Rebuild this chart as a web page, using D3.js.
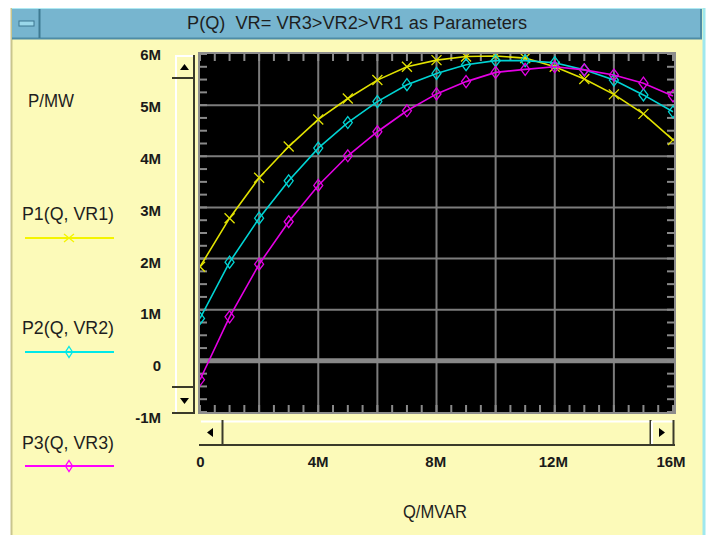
<!DOCTYPE html>
<html>
<head>
<meta charset="utf-8" />
<title>P(Q)</title>
<script src="https://cdnjs.cloudflare.com/ajax/libs/d3/7.8.5/d3.min.js"></script>
<style>
    body { margin: 0; background: #fff; }
    svg text { font-family: "Liberation Sans", Arial, sans-serif; fill: #1e1e1e; }
    .tick text { font-weight: bold; font-size: 15px; fill: #1a1a1a; }
</style>
</head>
<body>
<script>
    // Q in MVAR (millions), P in MW (millions)
    var qValues = [0, 1, 2, 3, 4, 5, 6, 7, 8, 9, 10, 11, 12, 13, 14, 15, 16];
    var p1Values = [1.84, 2.79, 3.58, 4.19, 4.72, 5.13, 5.49, 5.75, 5.88, 5.95, 5.96, 5.92, 5.75, 5.51, 5.21, 4.83, 4.32];
    var p2Values = [0.83, 1.93, 2.79, 3.52, 4.16, 4.66, 5.07, 5.40, 5.62, 5.79, 5.87, 5.87, 5.83, 5.69, 5.49, 5.20, 4.87];
    var p3Values = [-0.37, 0.86, 1.89, 2.72, 3.43, 4.01, 4.48, 4.89, 5.22, 5.46, 5.64, 5.70, 5.75, 5.69, 5.59, 5.43, 5.18];
    var seriesNames = ['P1(Q, VR1)', 'P2(Q, VR2)', 'P3(Q, VR3)'];
    var lineColors = ['#e2e200', '#00d4d4', '#e400e4'];
    var legendColors = ['#f4f400', '#00e8e8', '#ff00ff'];
    var markerTypes = ['x', 'diamond', 'diamond'];
    var xTickValues = [0, 4, 8, 12, 16];
    var xTickLabels = ['0', '4M', '8M', '12M', '16M'];
    var yTickValues = [-1, 0, 1, 2, 3, 4, 5, 6];
    var yTickLabels = ['-1M', '0', '1M', '2M', '3M', '4M', '5M', '6M'];

    var svg = d3.select('body').append('svg').attr('width', 713).attr('height', 535);

    // window frame
    svg.append('rect').attr('x', 11).attr('y', 8).attr('width', 692).attr('height', 527).attr('fill', '#fcfab9');
    svg.append('line').attr('x1', 11.5).attr('x2', 11.5).attr('y1', 8).attr('y2', 535).attr('stroke', '#c9c58e').attr('stroke-width', 2);
    svg.append('line').attr('x1', 704).attr('x2', 704).attr('y1', 8).attr('y2', 535).attr('stroke', '#9fe8ee').attr('stroke-width', 3);
    svg.append('rect').attr('x', 12).attr('y', 8).attr('width', 690).attr('height', 31).attr('fill', '#77b5cf');
    svg.append('line').attr('x1', 12).attr('x2', 702).attr('y1', 8.5).attr('y2', 8.5).attr('stroke', '#aee9f2');
    svg.append('line').attr('x1', 12).attr('x2', 702).attr('y1', 38.5).attr('y2', 38.5).attr('stroke', '#4e8ca6').attr('stroke-width', 2);
    svg.append('line').attr('x1', 701).attr('x2', 701).attr('y1', 9).attr('y2', 39).attr('stroke', '#4e8ca6').attr('stroke-width', 2);
    svg.append('line').attr('x1', 39.5).attr('x2', 39.5).attr('y1', 9).attr('y2', 38).attr('stroke', '#3f7a92').attr('stroke-width', 2);
    svg.append('rect').attr('x', 19).attr('y', 21).attr('width', 15).attr('height', 5).attr('fill', '#9ad7ea').attr('stroke', '#3c7690');

    svg.append('text').attr('x', 357).attr('y', 29).attr('text-anchor', 'middle')
        .attr('font-size', 18).attr('textLength', 340).attr('lengthAdjust', 'spacingAndGlyphs')
        .style('white-space', 'pre')
        .text('P(Q)  VR= VR3>VR2>VR1 as Parameters');

    // scales
    var x = d3.scaleLinear().domain([0, 16]).range([200, 673]);
    var y = d3.scaleLinear().domain([-1, 6]).range([412, 54]);
    var xLabel = d3.scaleLinear().domain([0, 16]).range([200, 670.5]);
    var yLabel = d3.scaleLinear().domain([-1, 6]).range([417.2, 54.5]);

    var plotLeft = 199, plotRight = 675, plotTop = 53, plotBottom = 413;

    // plot background
    svg.append('rect').attr('x', plotLeft).attr('y', plotTop)
        .attr('width', plotRight - plotLeft).attr('height', plotBottom - plotTop).attr('fill', '#000');

    // grid
    var grid = svg.append('g').attr('stroke', '#7c7c7c').attr('stroke-width', 2);
    grid.selectAll('.vx').data([2, 4, 6, 8, 10, 12, 14]).enter().append('line')
        .attr('x1', function (d) { return x(d); }).attr('x2', function (d) { return x(d); })
        .attr('y1', plotTop).attr('y2', plotBottom);
    grid.selectAll('.hy').data([1, 2, 3, 4, 5]).enter().append('line')
        .attr('y1', function (d) { return y(d); }).attr('y2', function (d) { return y(d); })
        .attr('x1', plotLeft).attr('x2', plotRight);
    svg.append('line').attr('x1', plotLeft).attr('x2', plotRight).attr('y1', y(0)).attr('y2', y(0))
        .attr('stroke', '#888').attr('stroke-width', 5);

    // minor ticks on all four sides
    var ticks = svg.append('g').attr('stroke', '#8a8a8a').attr('stroke-width', 2);
    var xMinor = d3.range(0, 16.01, 0.5);
    var yMinor = d3.range(-1, 6.01, 0.25);
    ticks.selectAll('.tt').data(xMinor).enter().append('line')
        .attr('x1', function (d) { return x(d); }).attr('x2', function (d) { return x(d); })
        .attr('y1', plotTop).attr('y2', plotTop + 8);
    ticks.selectAll('.tb').data(xMinor).enter().append('line')
        .attr('x1', function (d) { return x(d); }).attr('x2', function (d) { return x(d); })
        .attr('y1', plotBottom).attr('y2', plotBottom - 8);
    ticks.selectAll('.tl').data(yMinor).enter().append('line')
        .attr('y1', function (d) { return y(d); }).attr('y2', function (d) { return y(d); })
        .attr('x1', plotLeft).attr('x2', plotLeft + 8);
    ticks.selectAll('.tr').data(yMinor).enter().append('line')
        .attr('y1', function (d) { return y(d); }).attr('y2', function (d) { return y(d); })
        .attr('x1', plotRight).attr('x2', plotRight - 8);

    // series
    svg.append('clipPath').attr('id', 'plotclip').append('rect')
        .attr('x', plotLeft + 1).attr('y', plotTop + 1)
        .attr('width', plotRight - plotLeft - 2).attr('height', plotBottom - plotTop - 2);
    var plot = svg.append('g').attr('clip-path', 'url(#plotclip)');

    var allSeries = [p1Values, p2Values, p3Values].map(function (vals, i) {
        return {
            name: seriesNames[i], color: lineColors[i], marker: markerTypes[i],
            points: qValues.map(function (q, j) { return { q: q, p: vals[j] }; })
        };
    });

    var line = d3.line().x(function (d) { return x(d.q); }).y(function (d) { return y(d.p); });
    var markerPath = {
        x: 'M-5,-5L5,5M-5,5L5,-5',
        diamond: 'M0,-6L4.5,0L0,6L-4.5,0Z'
    };

    allSeries.forEach(function (s) {
        plot.append('path').datum(s.points).attr('d', line)
            .attr('fill', 'none').attr('stroke', s.color).attr('stroke-width', 1.6);
        plot.selectAll(null).data(s.points).enter().append('path')
            .attr('transform', function (d) { return 'translate(' + x(d.q) + ',' + y(d.p) + ')'; })
            .attr('d', markerPath[s.marker])
            .attr('fill', 'none').attr('stroke', s.color).attr('stroke-width', 1.3);
    });

    svg.append('rect').attr('x', plotLeft).attr('y', plotTop)
        .attr('width', plotRight - plotLeft).attr('height', plotBottom - plotTop)
        .attr('fill', 'none').attr('stroke', '#8c8c8c').attr('stroke-width', 2);

    // axes labels
    var xAxis = d3.axisBottom(xLabel).tickValues(xTickValues)
        .tickFormat(function (d, i) { return xTickLabels[i]; }).tickSize(0).tickPadding(11);
    var gx = svg.append('g').attr('transform', 'translate(0,445)').call(xAxis);
    gx.select('.domain').remove();

    var yAxis = d3.axisLeft(yLabel).tickValues(yTickValues)
        .tickFormat(function (d, i) { return yTickLabels[i]; }).tickSize(0).tickPadding(0);
    var gy = svg.append('g').attr('transform', 'translate(161,0)').call(yAxis);
    gy.select('.domain').remove();
    gy.selectAll('text').attr('dy', '0.36em');

    svg.append('text').attr('x', 28).attr('y', 107).attr('font-size', 19)
        .attr('textLength', 46).attr('lengthAdjust', 'spacingAndGlyphs').text('P/MW');
    svg.append('text').attr('x', 403).attr('y', 518).attr('font-size', 19)
        .attr('textLength', 64).attr('lengthAdjust', 'spacingAndGlyphs').text('Q/MVAR');

    // vertical scrollbar
    var vs = svg.append('g');
    vs.append('rect').attr('x', 175).attr('y', 55).attr('width', 19).attr('height', 358).attr('fill', '#fcfab9');
    vs.append('line').attr('x1', 176).attr('x2', 176).attr('y1', 55).attr('y2', 412).attr('stroke', '#fff').attr('stroke-width', 2);
    vs.append('line').attr('x1', 194).attr('x2', 194).attr('y1', 55).attr('y2', 414).attr('stroke', '#3a3a2a').attr('stroke-width', 2);
    vs.append('line').attr('x1', 172).attr('x2', 195).attr('y1', 78).attr('y2', 78).attr('stroke', '#3a3a2a').attr('stroke-width', 2);
    vs.append('line').attr('x1', 172).attr('x2', 195).attr('y1', 387).attr('y2', 387).attr('stroke', '#3a3a2a').attr('stroke-width', 2);
    vs.append('line').attr('x1', 172).attr('x2', 195).attr('y1', 413).attr('y2', 413).attr('stroke', '#3a3a2a').attr('stroke-width', 2);
    vs.append('line').attr('x1', 175).attr('x2', 193).attr('y1', 56).attr('y2', 56).attr('stroke', '#fff').attr('stroke-width', 2);
    vs.append('path').attr('d', 'M184.5,64L189,70L180,70Z').attr('fill', '#000');
    vs.append('path').attr('d', 'M184.5,404L189,398L180,398Z').attr('fill', '#000');

    // horizontal scrollbar
    var hs = svg.append('g');
    hs.append('rect').attr('x', 201).attr('y', 420).attr('width', 473).attr('height', 25).attr('fill', '#fcfab9');
    hs.append('line').attr('x1', 201).attr('x2', 673).attr('y1', 421.5).attr('y2', 421.5).attr('stroke', '#fff').attr('stroke-width', 2);
    hs.append('line').attr('x1', 199).attr('x2', 675).attr('y1', 445).attr('y2', 445).attr('stroke', '#3a3a2a').attr('stroke-width', 2);
    hs.append('line').attr('x1', 222.5).attr('x2', 222.5).attr('y1', 420).attr('y2', 445).attr('stroke', '#3a3a2a').attr('stroke-width', 2);
    hs.append('line').attr('x1', 650.5).attr('x2', 650.5).attr('y1', 420).attr('y2', 445).attr('stroke', '#3a3a2a').attr('stroke-width', 2);
    hs.append('line').attr('x1', 673.5).attr('x2', 673.5).attr('y1', 420).attr('y2', 445).attr('stroke', '#3a3a2a').attr('stroke-width', 2);
    hs.append('line').attr('x1', 652).attr('x2', 652).attr('y1', 421).attr('y2', 444).attr('stroke', '#fff').attr('stroke-width', 2);
    hs.append('path').attr('d', 'M207,432.5L213,428L213,437Z').attr('fill', '#000');
    hs.append('path').attr('d', 'M665,432.5L659,428L659,437Z').attr('fill', '#000');

    // legend
    var legendTextY = [219.5, 333.5, 448.5];
    var legendLineY = [238, 352, 466];
    var legend = svg.append('g');
    allSeries.forEach(function (s, i) {
        legend.append('text').attr('x', 22).attr('y', legendTextY[i]).attr('font-size', 19)
            .attr('textLength', 92).attr('lengthAdjust', 'spacingAndGlyphs').text(s.name);
        legend.append('line').attr('x1', 25).attr('x2', 114).attr('y1', legendLineY[i]).attr('y2', legendLineY[i])
            .attr('stroke', legendColors[i]).attr('stroke-width', 2);
        legend.append('path').attr('transform', 'translate(69,' + legendLineY[i] + ')')
            .attr('d', s.marker === 'x' ? 'M-5,-4L5,4M-5,4L5,-4' : 'M0,-5.5L3.5,0L0,5.5L-3.5,0Z')
            .attr('fill', 'none').attr('stroke', legendColors[i]).attr('stroke-width', 1.3);
    });
</script>
</body>
</html>
